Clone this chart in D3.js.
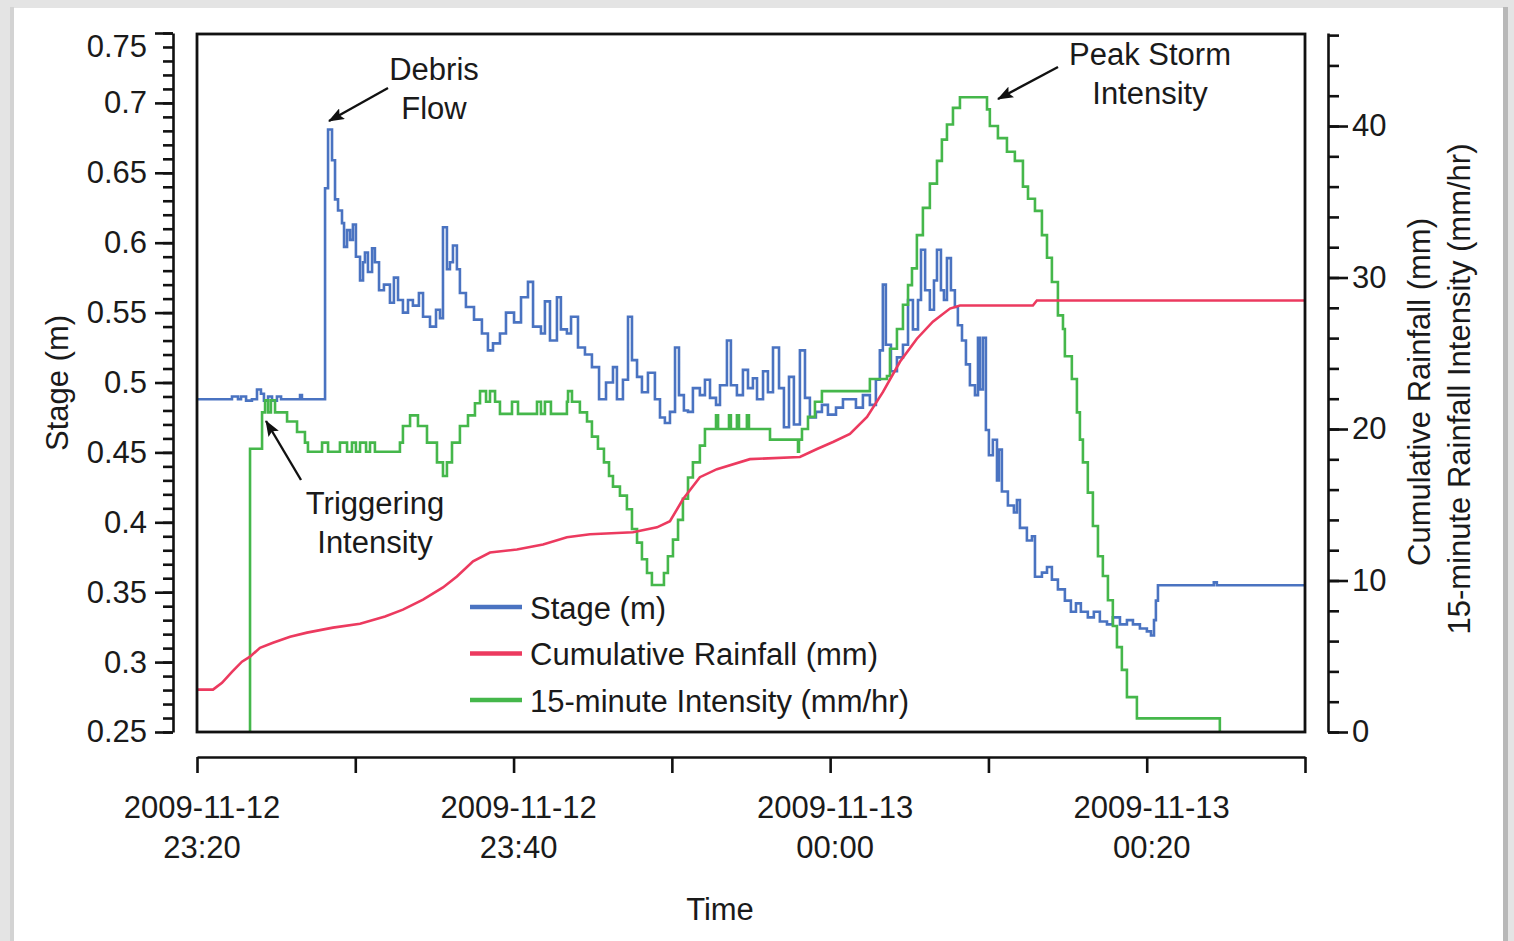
<!DOCTYPE html>
<html>
<head>
<meta charset="utf-8">
<script src="https://cdn.jsdelivr.net/npm/d3@7"></script>
<style>
  body { margin: 0; background: #e3e3e3; }
  svg { display: block; font-family: "Liberation Sans", Arial, sans-serif; }
  .axis path, .axis line { stroke: #111; stroke-width: 2.6px; }
  .axis text { font-size: 31px; fill: #1a1a1a; font-family: "Liberation Sans", Arial, sans-serif; }
  .label { font-size: 31px; fill: #1a1a1a; }
</style>
</head>
<body>
<svg id="chart"></svg>
<script>
// minutes after 2009-11-12 23:20, stage in metres
var stage_data = [
  [0, 0.488], [2.21, 0.490], [2.59, 0.488], [2.78, 0.490], [3.10, 0.487], [3.47, 0.488],
  [3.79, 0.495], [4.04, 0.492], [4.23, 0.487], [4.49, 0.490], [4.74, 0.487], [5.05, 0.490],
  [5.31, 0.488], [6.51, 0.491], [6.63, 0.488], [8.09, 0.639], [8.28, 0.681], [8.53, 0.659],
  [8.72, 0.631], [8.91, 0.623], [9.16, 0.614], [9.29, 0.597], [9.48, 0.609], [9.67, 0.602],
  [9.85, 0.613], [10.04, 0.590], [10.30, 0.573], [10.49, 0.586], [10.61, 0.593], [10.80, 0.579],
  [11.06, 0.596], [11.24, 0.586], [11.50, 0.566], [11.81, 0.570], [12.19, 0.557], [12.44, 0.575],
  [12.70, 0.559], [13.01, 0.550], [13.33, 0.559], [13.64, 0.555], [14.02, 0.564], [14.28, 0.547],
  [14.72, 0.540], [15.10, 0.552], [15.35, 0.546], [15.54, 0.611], [15.79, 0.581], [15.98, 0.586],
  [16.17, 0.598], [16.42, 0.581], [16.61, 0.564], [16.99, 0.554], [17.50, 0.545], [18.00, 0.535],
  [18.38, 0.523], [18.70, 0.528], [19.14, 0.535], [19.52, 0.550], [20.03, 0.543], [20.47, 0.561],
  [20.91, 0.572], [21.23, 0.540], [21.73, 0.535], [21.98, 0.558], [22.30, 0.530], [22.74, 0.561],
  [22.99, 0.538], [23.37, 0.535], [23.63, 0.547], [24.07, 0.525], [24.51, 0.520], [24.95, 0.511],
  [25.40, 0.488], [25.84, 0.500], [26.28, 0.511], [26.53, 0.488], [26.91, 0.502], [27.23, 0.547],
  [27.48, 0.516], [27.80, 0.504], [28.11, 0.493], [28.49, 0.507], [28.93, 0.488], [29.25, 0.475],
  [29.56, 0.471], [29.88, 0.479], [30.20, 0.525], [30.45, 0.491], [30.76, 0.480], [31.02, 0.479],
  [31.33, 0.496], [31.77, 0.491], [32.09, 0.502], [32.41, 0.489], [32.79, 0.484], [33.04, 0.498],
  [33.48, 0.530], [33.73, 0.498], [34.11, 0.491], [34.49, 0.509], [34.81, 0.496], [35.12, 0.503],
  [35.38, 0.488], [35.76, 0.508], [36.07, 0.493], [36.39, 0.525], [36.77, 0.496], [37.08, 0.468],
  [37.40, 0.504], [37.71, 0.470], [38.09, 0.523], [38.41, 0.489], [38.72, 0.475], [39.10, 0.479],
  [39.48, 0.484], [39.86, 0.477], [40.37, 0.482], [40.81, 0.488], [41.25, 0.488], [41.63, 0.482],
  [42.07, 0.491], [42.51, 0.484], [42.89, 0.502], [43.14, 0.523], [43.33, 0.570], [43.52, 0.527],
  [43.84, 0.508], [44.22, 0.518], [44.60, 0.527], [44.92, 0.559], [45.23, 0.538], [45.55, 0.559],
  [45.74, 0.595], [46.00, 0.566], [46.30, 0.552], [46.56, 0.573], [46.75, 0.595], [47.00, 0.566],
  [47.19, 0.559], [47.38, 0.589], [47.63, 0.566], [47.88, 0.554], [48.07, 0.541], [48.33, 0.530],
  [48.58, 0.513], [48.83, 0.498], [49.15, 0.491], [49.34, 0.532], [49.46, 0.495], [49.65, 0.532],
  [49.84, 0.466], [50.03, 0.448], [50.28, 0.459], [50.54, 0.430], [50.66, 0.452], [50.85, 0.422],
  [51.23, 0.412], [51.61, 0.407], [51.80, 0.416], [51.99, 0.396], [52.43, 0.387], [52.75, 0.390],
  [52.94, 0.361], [53.38, 0.364], [53.70, 0.368], [54.01, 0.359], [54.39, 0.352], [54.83, 0.344],
  [55.21, 0.336], [55.53, 0.342], [55.84, 0.336], [56.28, 0.332], [56.66, 0.336], [57.04, 0.329],
  [57.49, 0.327], [57.86, 0.332], [58.31, 0.327], [58.75, 0.330], [59.13, 0.327], [59.57, 0.324],
  [60.01, 0.322], [60.27, 0.319], [60.46, 0.330], [60.58, 0.344], [60.71, 0.355], [64.12, 0.355],
  [64.24, 0.357], [64.43, 0.355], [70, 0.355]
];

// cumulative rainfall, mm
var rain_data = [
  [0, 2.8], [1.01, 2.8], [1.58, 3.25], [2.21, 3.97], [2.84, 4.64], [3.35, 4.97], [3.98, 5.56],
  [4.80, 5.89], [5.88, 6.29], [6.95, 6.56], [8.59, 6.89], [10.30, 7.15], [11.88, 7.62],
  [13.01, 8.08], [14.28, 8.74], [15.54, 9.54], [16.42, 10.26], [17.44, 11.26], [18.51, 11.85],
  [20.21, 12.05], [21.86, 12.38], [23.37, 12.85], [24.83, 13.05], [27.54, 13.18], [29.06, 13.51],
  [29.88, 13.91], [30.70, 15.36], [31.77, 16.82], [32.85, 17.35], [34.93, 18.01], [38.09, 18.15],
  [39.17, 18.68], [40.18, 19.14], [41.25, 19.67], [42.33, 20.79], [43.34, 22.45], [44.41, 24.44],
  [45.48, 25.96], [46.49, 27.09], [47.57, 27.95], [48.20, 28.15], [52.81, 28.15], [53.06, 28.48],
  [70, 28.48]
];

// 15-minute intensity, mm/hr
var intensity_data = [
  [3.35, 0], [3.35, 18.7], [4.11, 21.1], [4.30, 21.9], [4.49, 21.1], [4.67, 21.9], [4.93, 21.1],
  [5.69, 20.5], [6.32, 19.8], [6.82, 19.1], [7.01, 18.5], [7.90, 19.1], [8.28, 18.5], [9.03, 19.1],
  [9.48, 18.5], [9.79, 19.1], [10.04, 18.5], [10.30, 19.1], [10.68, 18.5], [10.93, 19.1],
  [11.24, 18.5], [12.82, 19.1], [13.01, 20.2], [13.46, 20.9], [13.96, 20.2], [14.53, 19.1],
  [15.16, 17.8], [15.54, 16.9], [15.79, 17.8], [16.11, 19.1], [16.61, 20.2], [17.12, 20.9],
  [17.56, 21.7], [17.88, 22.5], [18.26, 21.8], [18.51, 22.5], [18.83, 21.8], [19.14, 21.0],
  [19.90, 21.8], [20.28, 21.0], [21.48, 21.8], [21.73, 21.0], [21.98, 21.8], [22.36, 21.0],
  [23.37, 21.8], [23.44, 22.5], [23.69, 21.8], [24.19, 21.1], [24.64, 20.5], [24.95, 19.5],
  [25.33, 18.7], [25.71, 17.8], [26.03, 16.9], [26.28, 16.2], [26.72, 15.6], [27.16, 14.7],
  [27.48, 13.4], [27.80, 12.5], [28.11, 11.4], [28.43, 10.5], [28.74, 9.7], [29.50, 10.5],
  [29.75, 11.6], [30.07, 12.7], [30.39, 14.0], [30.70, 15.4], [31.02, 16.8], [31.33, 17.8],
  [31.77, 18.9], [32.09, 20.0], [32.79, 20.9], [32.92, 20.0], [33.61, 20.9], [33.73, 20.0],
  [34.11, 20.9], [34.24, 20.0], [34.74, 20.9], [34.87, 20.0], [36.20, 19.3], [37.97, 18.5],
  [38.03, 19.3], [38.22, 20.0], [38.60, 20.8], [39.04, 21.8], [39.48, 22.5], [42.51, 23.3],
  [43.59, 23.5], [43.78, 25.3], [44.22, 26.6], [44.60, 28.2], [44.92, 29.5], [45.17, 30.6],
  [45.48, 32.8], [45.86, 34.6], [46.30, 36.2], [46.75, 37.7], [47.06, 39.1], [47.38, 40.1],
  [47.76, 41.2], [48.20, 41.9], [49.91, 41.1], [50.09, 40.0], [50.60, 39.2], [51.17, 38.3],
  [51.67, 37.7], [52.18, 36.0], [52.50, 35.2], [52.94, 34.4], [53.38, 32.8], [53.70, 31.3],
  [54.01, 29.7], [54.39, 27.5], [54.71, 26.6], [54.83, 24.8], [55.27, 23.3], [55.59, 21.1],
  [55.78, 19.3], [55.97, 17.8], [56.28, 15.8], [56.60, 13.6], [56.92, 11.6], [57.23, 10.3],
  [57.55, 8.7], [57.86, 7.0], [58.12, 5.6], [58.43, 4.1], [58.75, 2.3], [59.38, 0.9],
  [64.62, 0]
];

var stage_ticks = [0.25, 0.3, 0.35, 0.4, 0.45, 0.5, 0.55, 0.6, 0.65, 0.7, 0.75];
var rain_ticks = [0, 10, 20, 30, 40];
var time_ticks = [0, 10, 20, 30, 40, 50, 60, 70];
var time_label_ticks = [0, 20, 40, 60];
var legend_names = ['Stage (m)', 'Cumulative Rainfall (mm)', '15-minute Intensity (mm/hr)'];

var svg_width = 1514,
  svg_height = 941,
  plot_left = 197,
  plot_right = 1305,
  plot_top = 33,
  plot_bottom = 732;

var color_stage = '#4a73c1',
  color_rain = '#ec3a5f',
  color_intensity = '#45b74b';

var start_time = new Date(2009, 10, 12, 23, 20);
function to_time(m) {
  return new Date(start_time.getTime() + m * 60000);
}

var svg = d3
  .select('#chart')
  .attr('width', svg_width)
  .attr('height', svg_height);

// page background with shadowed panel
svg.append('rect').attr('width', svg_width).attr('height', svg_height).attr('fill', '#e4e4e4');
svg.append('rect').attr('x', 10).attr('y', 7).attr('width', 4).attr('height', svg_height).attr('fill', '#d3d3d3');
svg.append('rect').attr('x', 1503).attr('y', 7).attr('width', 5).attr('height', svg_height).attr('fill', '#b8b8b8');
svg.append('rect').attr('x', 14).attr('y', 8).attr('width', 1489).attr('height', svg_height).attr('fill', '#fff');

// scales
var x = d3.scaleTime().domain([to_time(0), to_time(70)]).range([plot_left, plot_right]);
var y_stage = d3.scaleLinear().domain([0.25, 0.75]).range([plot_bottom, plot_top]);
var y_rain = d3.scaleLinear().domain([0, 46.14]).range([plot_bottom, plot_top]);

// left axis, minor ticks first then labelled ones
var left_axis = svg.append('g').attr('class', 'axis').attr('transform', 'translate(173,0)');
left_axis.call(
  d3.axisLeft(y_stage)
    .tickValues(d3.range(25, 76).map(function(i) { return i / 100; }))
    .tickSize(10)
    .tickSizeOuter(0)
    .tickFormat('')
);
var left_major = svg.append('g').attr('class', 'axis').attr('transform', 'translate(173,0)');
left_major.call(
  d3.axisLeft(y_stage)
    .tickValues(stage_ticks)
    .tickSize(18)
    .tickSizeOuter(0)
    .tickPadding(8)
    .tickFormat(function(d) { return String(+d.toFixed(2)); })
);
left_major.select('.domain').remove();
// top label sits a bit lower in the original
left_major.selectAll('.tick text').filter(function(d) { return d === 0.75; }).attr('dy', '0.75em');

// right axis
var right_axis = svg.append('g').attr('class', 'axis').attr('transform', 'translate(1328,0)');
right_axis.call(
  d3.axisRight(y_rain)
    .tickValues(d3.range(0, 47, 2))
    .tickSize(11)
    .tickSizeOuter(0)
    .tickFormat('')
);
var right_major = svg.append('g').attr('class', 'axis').attr('transform', 'translate(1328,0)');
right_major.call(
  d3.axisRight(y_rain)
    .tickValues(rain_ticks)
    .tickSize(20)
    .tickSizeOuter(0)
    .tickPadding(4)
);
right_major.select('.domain').remove();

// bottom time axis
var bottom_axis = svg.append('g').attr('class', 'axis').attr('transform', 'translate(0,757)');
bottom_axis.call(
  d3.axisBottom(x)
    .tickValues(time_ticks.map(to_time))
    .tickSize(16)
    .tickSizeOuter(0)
    .tickFormat('')
);
var fmt_date = d3.timeFormat('%Y-%m-%d'),
  fmt_hm = d3.timeFormat('%H:%M');
var time_labels = bottom_axis
  .selectAll('.time-label')
  .data(time_label_ticks.map(to_time))
  .enter()
  .append('text')
  .attr('class', 'time-label')
  .attr('text-anchor', 'middle')
  .attr('fill', '#1a1a1a')
  .style('font-size', '31px')
  .attr('transform', function(d) { return 'translate(' + (x(d) + 5) + ',0)'; });
time_labels.append('tspan').attr('x', 0).attr('y', 61).text(function(d) { return fmt_date(d); });
time_labels.append('tspan').attr('x', 0).attr('y', 101).text(function(d) { return fmt_hm(d); });

// axis titles
svg.append('text').attr('class', 'label').attr('text-anchor', 'middle')
  .attr('transform', 'translate(68,383) rotate(-90)').text('Stage (m)');
svg.append('text').attr('class', 'label').attr('text-anchor', 'middle')
  .attr('transform', 'translate(1430,392) rotate(-90)').text('Cumulative Rainfall (mm)');
svg.append('text').attr('class', 'label').attr('text-anchor', 'middle')
  .attr('transform', 'translate(1470,389) rotate(-90)').text('15-minute Rainfall Intensity (mm/hr)');
svg.append('text').attr('class', 'label').attr('text-anchor', 'middle')
  .attr('x', 720).attr('y', 920).text('Time');

// clip for series
svg.append('clipPath').attr('id', 'plot-clip')
  .append('rect')
  .attr('x', plot_left).attr('y', plot_top)
  .attr('width', plot_right - plot_left).attr('height', plot_bottom - plot_top);

var series = svg.append('g').attr('clip-path', 'url(#plot-clip)');

var stage_line = d3.line()
  .x(function(d) { return x(to_time(d[0])); })
  .y(function(d) { return y_stage(d[1]); })
  .curve(d3.curveStepAfter);

var rain_line = d3.line()
  .x(function(d) { return x(to_time(d[0])); })
  .y(function(d) { return y_rain(d[1]); });

var intensity_line = d3.line()
  .x(function(d) { return x(to_time(d[0])); })
  .y(function(d) { return y_rain(d[1]); })
  .curve(d3.curveStepAfter);

series.append('path').datum(stage_data)
  .attr('d', stage_line).attr('fill', 'none')
  .attr('stroke', color_stage).attr('stroke-width', 2.6);

series.append('path').datum(intensity_data)
  .attr('d', intensity_line).attr('fill', 'none')
  .attr('stroke', color_intensity).attr('stroke-width', 2.6);

series.append('path').datum(rain_data)
  .attr('d', rain_line).attr('fill', 'none')
  .attr('stroke', color_rain).attr('stroke-width', 2.6);

// plot frame
svg.append('rect')
  .attr('x', plot_left).attr('y', plot_top + 1)
  .attr('width', plot_right - plot_left).attr('height', plot_bottom - plot_top - 1)
  .attr('fill', 'none').attr('stroke', '#111').attr('stroke-width', 2.8);

// legend
var legend_colors = [color_stage, color_rain, color_intensity];
var legend = svg.append('g').attr('transform', 'translate(470,607)');
var legend_item = legend.selectAll('.legend-item')
  .data(legend_names)
  .enter()
  .append('g')
  .attr('class', 'legend-item')
  .attr('transform', function(d, i) { return 'translate(0,' + i * 46.5 + ')'; });
legend_item.append('line')
  .attr('x1', 0).attr('x2', 52).attr('y1', 0).attr('y2', 0)
  .attr('stroke', function(d, i) { return legend_colors[i]; })
  .attr('stroke-width', 4.5);
legend_item.append('text')
  .attr('class', 'label').attr('x', 60).attr('y', 11.5)
  .text(function(d) { return d; });

// annotations
svg.append('defs').append('marker')
  .attr('id', 'arrow')
  .attr('markerUnits', 'userSpaceOnUse')
  .attr('markerWidth', 16).attr('markerHeight', 12)
  .attr('refX', 15).attr('refY', 6)
  .attr('orient', 'auto')
  .append('path').attr('d', 'M0,0L16,6L0,12L3,6z').attr('fill', '#111');

var notes = [
  { lines: ['Debris', 'Flow'], x: 434, y: 80, from: [388, 88], to: [329, 121] },
  { lines: ['Peak Storm', 'Intensity'], x: 1150, y: 65, from: [1058, 67], to: [998, 99] },
  { lines: ['Triggering', 'Intensity'], x: 375, y: 514, from: [301, 480], to: [266, 421] }
];

notes.forEach(function(n) {
  svg.append('line')
    .attr('x1', n.from[0]).attr('y1', n.from[1])
    .attr('x2', n.to[0]).attr('y2', n.to[1])
    .attr('stroke', '#111').attr('stroke-width', 2.4)
    .attr('marker-end', 'url(#arrow)');
  var t = svg.append('text').attr('class', 'label').attr('text-anchor', 'middle');
  n.lines.forEach(function(s, i) {
    t.append('tspan').attr('x', n.x).attr('y', n.y + i * 38.5).text(s);
  });
});
</script>
</body>
</html>
